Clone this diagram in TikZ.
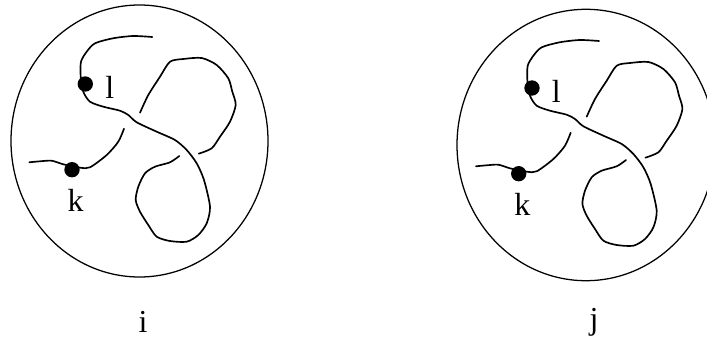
\documentclass[tikz,border=0pt]{standalone}
\usepackage{fontspec}
\setmainfont{Liberation Serif}
\usetikzlibrary{positioning}
\tikzset{
    strand/.style={line width=1.25pt, line join=round, line cap=round},
    rim/.style={line width=0.95pt},
    dotmark/.style={circle, fill=black, inner sep=0pt, minimum size=11.5pt},
    letter/.style={font=\fontsize{24pt}{24pt}\selectfont, inner sep=0pt, anchor=base}
}
\begin{document}
\begin{tikzpicture}[x=0.75pt,y=-0.75pt]
    \useasboundingbox (0,0) rectangle (707,336);

    % Two copies of the same knot
    \foreach \nm/\dx/\dy/\cx/\cy/\rx/\ry/\capx/\capy in {i/0/0/139.5/141/128.5/136/143/332.7, j/446.7/4/586/145/129/135.7/594/329}{
        % Outer curve
        \draw[rim] (\cx,\cy) ellipse [x radius=\rx, y radius=\ry];

        \begin{scope}[shift={(\dx,\dy)}]
            % Long strand
            \draw[strand] plot[smooth,tension=0.45] coordinates {(152.3,37) (133,36) (113,38.3) (95,43.3) (86.7,51.7) (81,61.7) (80.7,76.7) (83.3,91.7) (90,101.7) (103.3,106.7) (120,110.7) (128.3,115) (136.7,122.3) (156.7,131.7) (175,140) (186.7,150) (196.7,163.3) (204,180) (210,206.7) (206.7,223.3) (198.3,235) (186.7,241.7) (170,241) (156.7,236.7) (148.3,225) (140,211.7) (135.7,200) (138.3,186.7) (145,173.3) (155,166.7) (170,162.3) (179.3,156)};
            % Upper loop
            \draw[strand] plot[smooth,tension=0.45] coordinates {(140,112.7) (148.3,95) (160,76.7) (170,61.7) (183.3,59) (201.7,58) (216.7,65) (228.3,78.3) (232.3,91.7) (235.7,105) (230,121.7) (220,136.7) (211.7,148.3) (198.7,153.7)};
            % Lower left strand
            \draw[strand] plot[smooth,tension=0.45] coordinates {(124,128.7) (118.3,141.7) (106.7,155) (90,167.3) (80,167.7) (63.3,164.3) (51.7,160.7) (40,161.3) (29.3,162.3)};

            % Marked points
            \node[dotmark] (dotl\nm) at (85.3,84) {};
            \node[dotmark] (dotk\nm) at (72,169.7) {};
            \node[letter] (labl\nm) at (109.7,98.3) {l};
            \node[letter] (labk\nm) at (75.7,211.7) {k};
        \end{scope}

        % Caption
        \node[letter] (capt\nm) at (\capx,\capy) {\nm};
    }
\end{tikzpicture}
\end{document}
